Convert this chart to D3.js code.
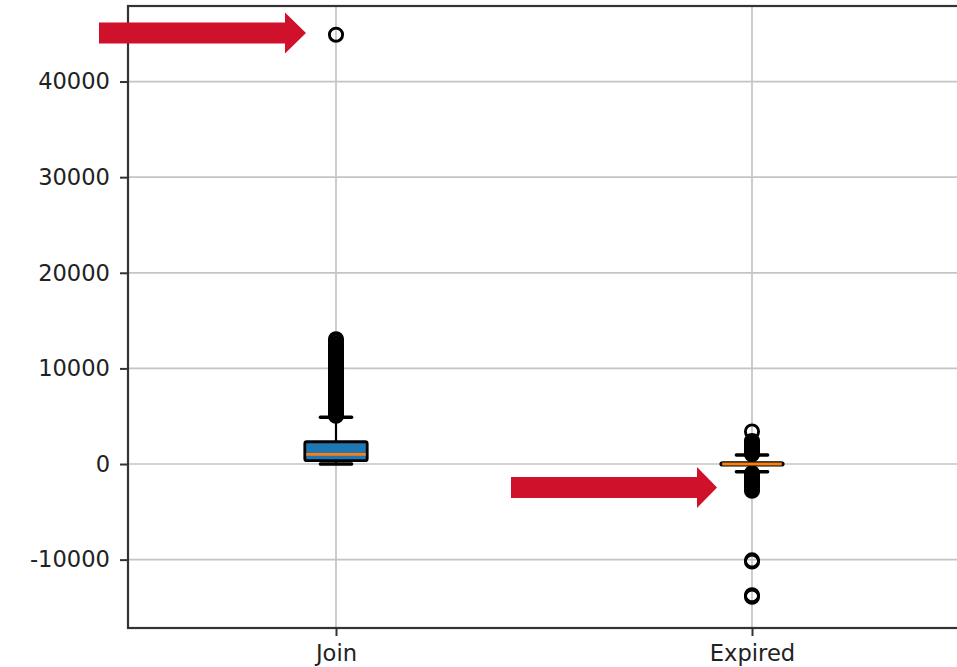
<!DOCTYPE html>
<html>
<head>
<meta charset="utf-8">
<script src="https://cdn.jsdelivr.net/npm/d3@7"></script>
<style>
  html, body { margin: 0; padding: 0; background: #fff; }
  svg { display: block; }
</style>
</head>
<body>
<svg id="chart" width="957" height="667"></svg>
<script>
// Box plot of membership day counts: Join vs Expired
const categories = ["Join", "Expired"];
const q1 =       [350, -120];
const medians =  [1000, 0];
const q3 =       [2330, 130];
const whiskLo =  [0, -800];
const whiskHi =  [4900, 940];
const outliers = [
  [5050, 5210, 5380, 5490, 5660, 5820, 5940, 6110, 6270, 6400, 6550, 6730, 6860,
   7020, 7190, 7310, 7480, 7650, 7770, 7930, 8090, 8220, 8380, 8540, 8660, 8830,
   8990, 9120, 9280, 9440, 9570, 9730, 9880, 10020, 10190, 10340, 10480, 10640,
   10790, 10930, 11100, 11250, 11390, 11560, 11720, 11870, 12050, 12290, 12560,
   12880, 13050, 44900],
  [1020, 1180, 1330, 1490, 1640, 1800, 1950, 2110, 2260, 2400, 3400,
   -950, -1100, -1260, -1410, -1570, -1720, -1880, -2030, -2190, -2340, -2500,
   -2650, -2800, -10080, -10200, -13720, -13880]
];
const yTicks = [-10000, 0, 10000, 20000, 30000, 40000];

const svg = d3.select("#chart");
const plotL = 128, plotR = 960, plotT = 6, plotB = 628;

const x = d3.scaleLinear().domain([0.5, 2.5]).range([plotL, plotR]);
const y = d3.scaleLinear().domain([-17150, 47900]).range([plotB, plotT]);

const boxW = x(0.15) - x(0);
const capW = boxW / 2;

// grid
const grid = svg.append("g").attr("stroke", "#c4c4c4").attr("stroke-width", 1.7);
yTicks.forEach(t => grid.append("line")
  .attr("x1", plotL).attr("x2", plotR).attr("y1", y(t)).attr("y2", y(t)));
categories.forEach((c, i) => grid.append("line")
  .attr("x1", x(i + 1)).attr("x2", x(i + 1)).attr("y1", plotT).attr("y2", plotB));

// axes (plain hyphen for negative labels)
const yAxis = svg.append("g").attr("transform", `translate(${plotL},0)`)
  .call(d3.axisLeft(y).tickValues(yTicks).tickFormat(d => String(d)).tickSize(8).tickPadding(10));
const xAxis = svg.append("g").attr("transform", `translate(0,${plotB})`)
  .call(d3.axisBottom(x).tickValues([1, 2]).tickFormat((d, i) => categories[i]).tickSize(8).tickPadding(9));
[yAxis, xAxis].forEach(a => {
  a.select(".domain").remove();
  a.selectAll("line").attr("stroke", "#333").attr("stroke-width", 2);
  a.selectAll("text").attr("font-family", "DejaVu Sans, sans-serif")
    .attr("font-size", 22.6).attr("fill", "#222");
});

// boxes
const plot = svg.append("g");
categories.forEach((c, i) => {
  const cx = x(i + 1);
  const g = plot.append("g");
  // whiskers
  g.append("line").attr("x1", cx).attr("x2", cx).attr("y1", y(q3[i])).attr("y2", y(whiskHi[i]))
    .attr("stroke", "#000").attr("stroke-width", 2.2);
  g.append("line").attr("x1", cx).attr("x2", cx).attr("y1", y(q1[i])).attr("y2", y(whiskLo[i]))
    .attr("stroke", "#000").attr("stroke-width", 2.2);
  // caps
  [whiskHi[i], whiskLo[i]].forEach(v => g.append("line")
    .attr("x1", cx - capW / 2).attr("x2", cx + capW / 2).attr("y1", y(v)).attr("y2", y(v))
    .attr("stroke", "#000").attr("stroke-width", 3.5).attr("stroke-linecap", "round"));
  // outliers
  g.selectAll("circle").data(outliers[i]).join("circle")
    .attr("cx", cx).attr("cy", d => y(d)).attr("r", 6.6)
    .attr("fill", "none").attr("stroke", "#000").attr("stroke-width", 2.9);
  // box
  g.append("rect").attr("x", cx - boxW / 2).attr("width", boxW)
    .attr("y", y(q3[i])).attr("height", Math.max(y(q1[i]) - y(q3[i]), 1))
    .attr("fill", "#1f77b4").attr("stroke", "#000").attr("stroke-width", 2.8).attr("rx", 2);
  // median
  g.append("line").attr("x1", cx - boxW / 2 + 1.4).attr("x2", cx + boxW / 2 - 1.4)
    .attr("y1", y(medians[i])).attr("y2", y(medians[i]))
    .attr("stroke", "#ff7f0e").attr("stroke-width", 2.8);
});

// frame
svg.append("rect").attr("x", plotL).attr("y", plotT).attr("width", plotR - plotL).attr("height", plotB - plotT)
  .attr("fill", "none").attr("stroke", "#333").attr("stroke-width", 2.2);

// highlight arrows
function arrow(x0, x1, headX, yc, shaftH, headH) {
  const p = d3.path();
  p.moveTo(x0, yc - shaftH / 2);
  p.lineTo(headX, yc - shaftH / 2);
  p.lineTo(headX, yc - headH / 2);
  p.lineTo(x1, yc);
  p.lineTo(headX, yc + headH / 2);
  p.lineTo(headX, yc + shaftH / 2);
  p.lineTo(x0, yc + shaftH / 2);
  p.closePath();
  svg.append("path").attr("d", p.toString()).attr("fill", "#d0112b");
}
arrow(99, 306, 285, 33, 21, 41);
arrow(511, 717, 697, 487.5, 21, 41);
</script>
</body>
</html>
